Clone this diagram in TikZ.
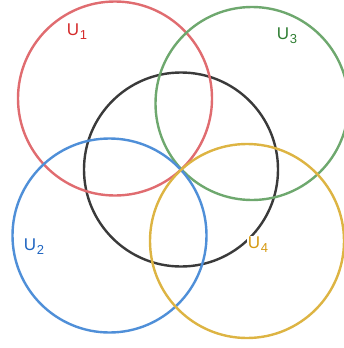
\documentclass[tikz,border=0pt]{standalone}
\usepackage{fontspec}
\setmainfont{Liberation Sans}
\definecolor{cred}{HTML}{E06C70}
\definecolor{cgreen}{HTML}{6EA86E}
\definecolor{cblue}{HTML}{4F8FD8}
\definecolor{cyellow}{HTML}{DDB443}
\definecolor{cblack}{HTML}{3A3A3A}
\definecolor{tred}{HTML}{D42A2A}
\definecolor{tgreen}{HTML}{2E7D32}
\definecolor{tblue}{HTML}{1E64C0}
\definecolor{tyellow}{HTML}{D69A12}
\newcommand{\usub}[1]{U\kern0.5pt\raisebox{-0.45ex}{\fontsize{13}{13}\selectfont #1}}
\begin{document}
\begin{tikzpicture}[x=1pt,y=-1pt,
  ring/.style={circle, draw, line width=2.4pt, minimum size=194pt, inner sep=0pt},
  lab/.style={font=\fontsize{17}{17}\selectfont, inner sep=1pt}]
\useasboundingbox (0,0) rectangle (344,348);
\node[ring, draw=cblack] (c0) at (181,169.5) {};
\node[ring, draw=cred] (c1) at (115,98.5) {};
\node[ring, draw=cgreen, minimum size=193pt] (c3) at (252,103.5) {};
\node[ring, draw=cblue] (c2) at (109.5,235.5) {};
\node[ring, draw=cyellow] (c4) at (247,241) {};
\node[lab, text=tred] (l1) at (77,32) {\usub{1}};
\node[lab, text=tgreen] (l3) at (287,36) {\usub{3}};
\node[lab, text=tblue] (l2) at (34,247) {\usub{2}};
\node[lab, text=tyellow, fill=white] (l4) at (258,245) {\usub{4}};
\end{tikzpicture}
\end{document}
